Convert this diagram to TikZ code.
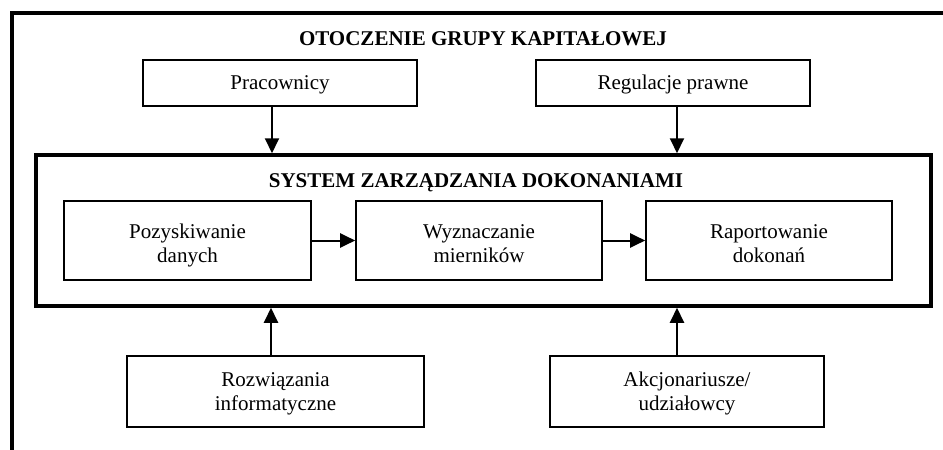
\documentclass[tikz,border=0pt]{standalone}
\usepackage{fontspec}
\setmainfont{Liberation Serif}
\usepackage{tikz}
\usetikzlibrary{arrows.meta,calc,positioning}

\tikzset{
  box/.style={draw, line width=1.6pt, minimum height=46pt, minimum width=274pt, align=center, inner sep=0pt,
    text height=17pt, text depth=5pt},
  inbox/.style={box, minimum height=79pt, minimum width=246pt, text height=48pt},
  lowbox/.style={box, minimum height=71pt, text height=42pt},
  arr/.style={line width=2pt, -{Triangle[length=15pt,width=14pt]}}
}

\begin{document}
\begin{tikzpicture}[x=1pt, y=-1pt, font=\fontsize{21}{24}\selectfont]
    \useasboundingbox (0,0) rectangle (943,450);

    % OUTER: environment of the group
    \draw[line width=3.5pt] (12,450) -- (12,13) -- (943,13);
    \node[anchor=base, font=\fontsize{21}{24}\selectfont\bfseries] (envtitle) at (483,45) {OTOCZENIE GRUPY KAPITAŁOWEJ};
    \node[box] (prac) at (280,83) {Pracownicy};
    \node[box] (reg) at (673,83) {Regulacje prawne};

    % MIDDLE: performance management system
    \node[draw, line width=3.5pt, minimum width=895pt, minimum height=151pt] (main) at (483.5,230.5) {};
    \node[anchor=base, font=\fontsize{21}{24}\selectfont\bfseries] (systitle) at (476,187) {SYSTEM ZARZĄDZANIA DOKONANIAMI};
    \node[inbox, minimum width=247pt] (poz) at (187.5,240.5) {Pozyskiwanie\\danych};
    \node[inbox] (wyz) at (479,240.5) {Wyznaczanie\\mierników};
    \node[inbox] (rap) at (769,240.5) {Raportowanie\\dokonań};
    \draw[arr] (poz) -- (wyz);
    \draw[arr] (wyz) -- (rap);

    % BOTTOM: IT and shareholders
    \node[lowbox, minimum width=297pt] (roz) at (275.5,391.5) {Rozwiązania\\informatyczne};
    \node[lowbox] (akc) at (687,391.5) {Akcjonariusze/\\udziałowcy};

    % arrows into the system
    \draw[arr] ([xshift=-8pt]prac.south) -- ([xshift=-8pt]prac.south |- main.north);
    \draw[arr] ([xshift=4pt]reg.south) -- ([xshift=4pt]reg.south |- main.north);
    \draw[arr] ([xshift=-4.5pt]roz.north) -- ([xshift=-4.5pt]roz.north |- main.south);
    \draw[arr] ([xshift=-10pt]akc.north) -- ([xshift=-10pt]akc.north |- main.south);
\end{tikzpicture}
\end{document}
